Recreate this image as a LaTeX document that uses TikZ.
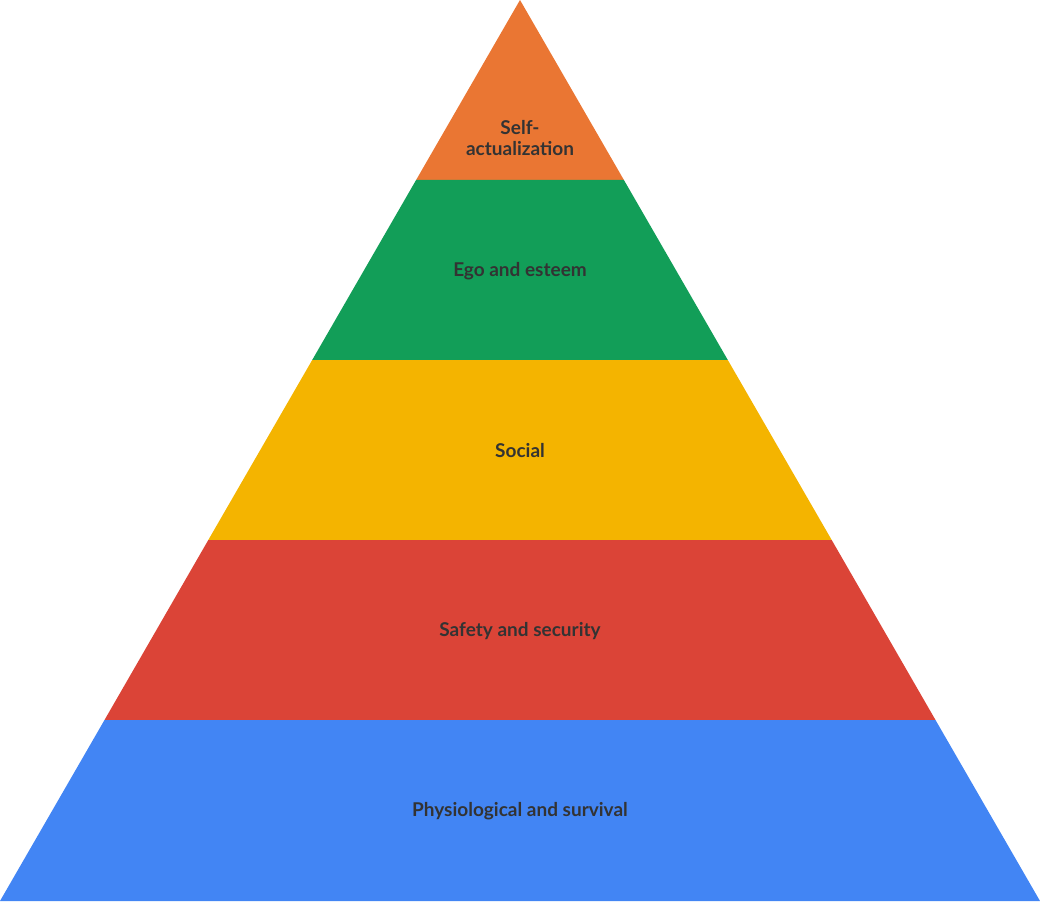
\documentclass[tikz,border=0pt]{standalone}
\usepackage{fontspec}
\setmainfont{Lato}
\usepackage{tikz}
\definecolor{topOrange}{HTML}{EA7633}
\definecolor{egoGreen}{HTML}{129E58}
\definecolor{socialYellow}{HTML}{F4B400}
\definecolor{safetyRed}{HTML}{DB4437}
\definecolor{baseBlue}{HTML}{4285F4}
\definecolor{labelGray}{HTML}{333333}
\begin{document}
\begin{tikzpicture}[x=1pt,y=-1pt,
	level/.style={font=\fontsize{19}{21}\selectfont\bfseries, text=labelGray, align=center}]
	% Define the corners of the layers
	\coordinate (T) at (520,0);
	\coordinate (L1) at (416.1,180); \coordinate (R1) at (623.9,180);
	\coordinate (L2) at (312.2,360); \coordinate (R2) at (727.8,360);
	\coordinate (L3) at (208.3,540); \coordinate (R3) at (831.7,540);
	\coordinate (L4) at (104.5,720); \coordinate (R4) at (935.5,720);
	\coordinate (L5) at (0,901);     \coordinate (R5) at (1040,901);

	% Fill the layers
	\fill[topOrange] (T) -- (R1) -- (L1) -- cycle;
	\fill[egoGreen] (L1) -- (R1) -- (R2) -- (L2) -- cycle;
	\fill[socialYellow] (L2) -- (R2) -- (R3) -- (L3) -- cycle;
	\fill[safetyRed] (L3) -- (R3) -- (R4) -- (L4) -- cycle;
	\fill[baseBlue] (L4) -- (R4) -- (R5) -- (L5) -- cycle;

	% Write the labels
	\node[level] (self) at (520,138) {Self-\\actualization};
	\node[level] (ego) at (520,271) {Ego and esteem};
	\node[level] (social) at (520,451) {Social};
	\node[level] (safety) at (520,631) {Safety and security};
	\node[level] (physio) at (520,811) {Physiological and survival};
\end{tikzpicture}
\end{document}
